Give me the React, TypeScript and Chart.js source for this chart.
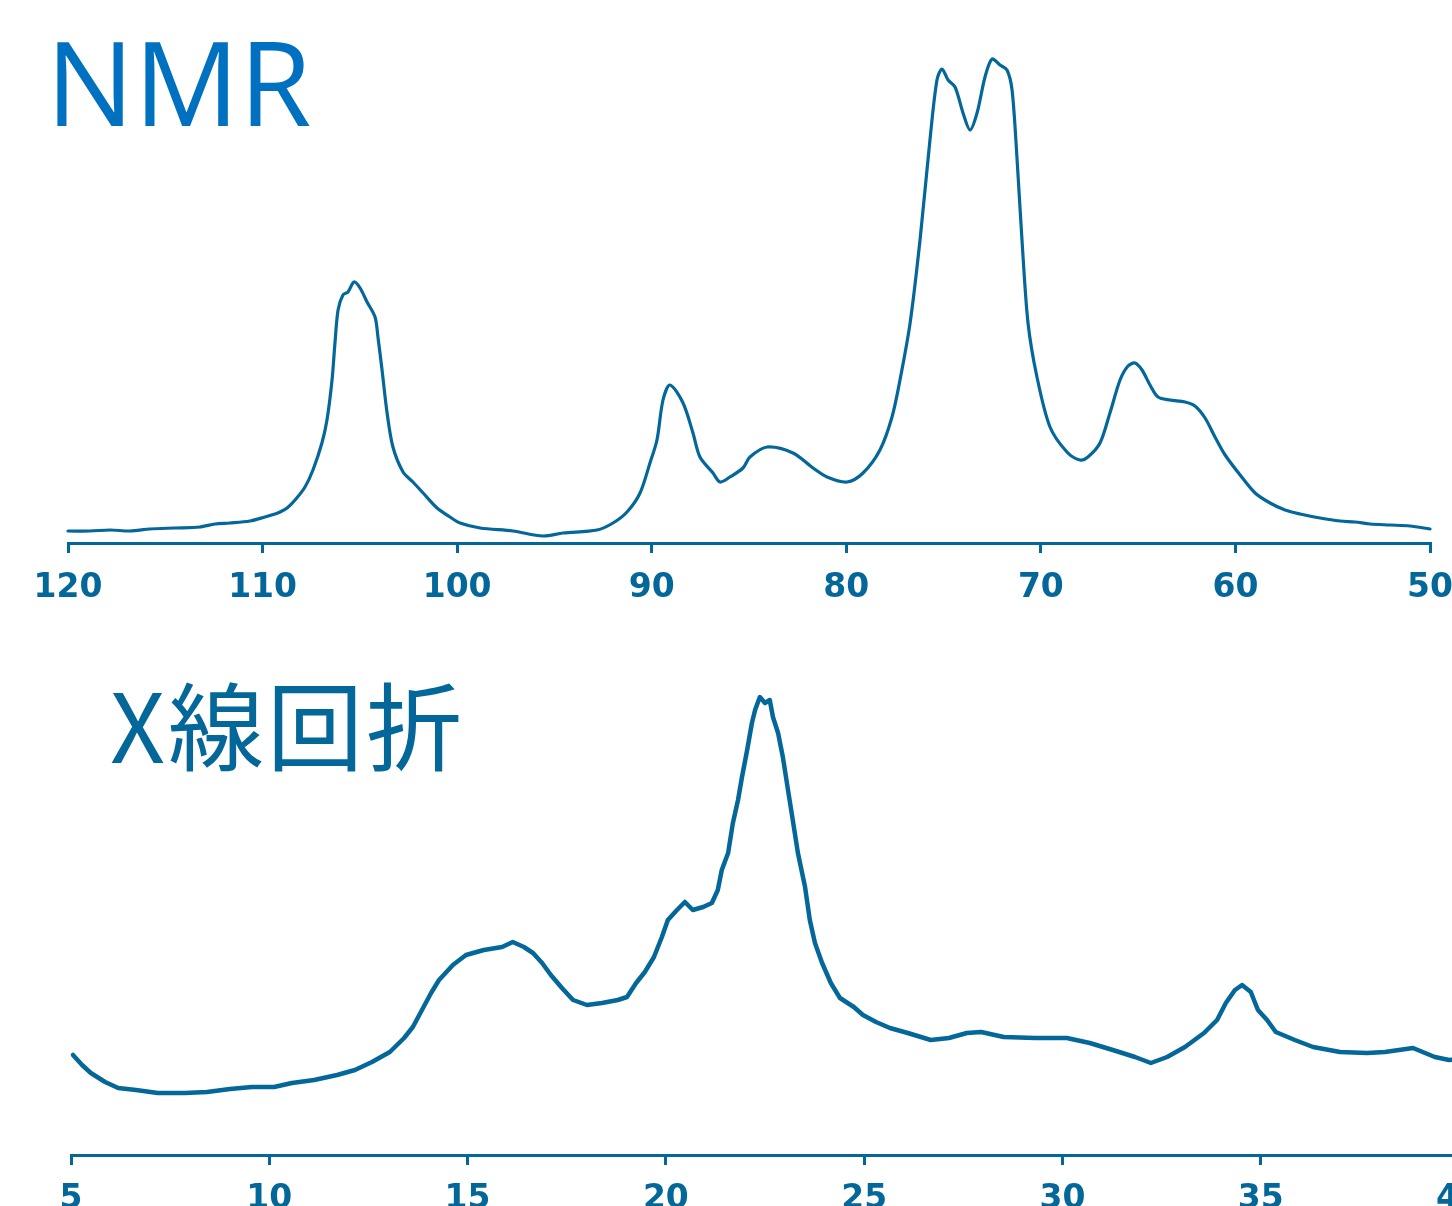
import React, { useEffect, useRef } from "react";
import { Chart, registerables } from "chart.js";

Chart.register(...registerables);

// ---- NMR spectrum (chemical shift, ppm) ----
const nmrShift = [
  120.0, 118.87, 117.84, 116.81, 115.79, 114.5, 113.22, 112.44, 111.67, 110.65,
  109.88, 109.36, 109.1, 108.74, 108.33, 107.82, 107.41, 106.95, 106.69, 106.43,
  106.28, 106.12, 105.87, 105.61, 105.3, 104.99, 104.63, 104.22, 104.07, 103.86,
  103.6, 103.3, 102.78, 102.27, 101.75, 101.03, 100.37, 99.85, 98.82, 97.13,
  95.59, 94.56, 92.81, 91.99, 91.27, 90.6, 90.09, 89.73, 89.42, 89.06,
  88.39, 87.88, 87.52, 86.85, 86.49, 85.98, 85.31, 84.95, 84.07, 82.74,
  81.71, 80.99, 79.96, 79.14, 78.27, 77.65, 77.24, 76.72, 76.21, 75.7,
  75.34, 75.08, 74.77, 74.41, 74.0, 73.64, 73.28, 72.87, 72.51, 72.1,
  71.74, 71.48, 71.23, 70.97, 70.66, 70.2, 69.53, 68.66, 67.99, 67.58,
  66.96, 66.45, 65.93, 65.52, 65.16, 64.8, 64.39, 63.98, 63.36, 62.59,
  62.08, 61.56, 61.05, 60.53, 59.76, 58.99, 58.22, 57.45, 56.68, 55.65,
  54.62, 53.85, 53.08, 52.06, 51.03, 50.0,
];
const nmrIntensity = [
  12, 12, 13, 12, 14, 15, 16, 19, 20, 22,
  26, 29, 31, 35, 43, 56, 73, 100, 123, 163,
  200, 233, 248, 251, 261, 255, 241, 226, 206, 173,
  130, 96, 71, 61, 50, 35, 26, 20, 15, 12,
  7, 10, 13, 20, 31, 50, 80, 103, 143, 158,
  140, 110, 86, 70, 61, 66, 75, 86, 96, 90,
  75, 66, 61, 70, 93, 126, 163, 220, 303, 403,
  463, 474, 463, 456, 430, 413, 430, 466, 484, 478,
  473, 453, 386, 303, 220, 166, 116, 91, 83, 86,
  100, 130, 163, 177, 180, 173, 158, 146, 143, 141,
  137, 125, 106, 88, 68, 50, 40, 33, 29, 25,
  22, 21, 19, 18, 17, 14,
];
const nmrTicks = { min: 50, max: 120, step: 10 };

// ---- X-ray diffraction (2θ, degrees) ----
const xrdAngle = [
  5.05, 5.28, 5.5, 5.86, 6.19, 6.64, 7.19, 7.87, 8.43, 9.01,
  9.56, 10.12, 10.57, 11.13, 11.71, 12.16, 12.59, 13.04, 13.4, 13.62,
  13.85, 14.08, 14.28, 14.63, 14.96, 15.41, 15.87, 16.14, 16.42, 16.65,
  16.88, 17.1, 17.38, 17.66, 18.01, 18.39, 18.79, 19.02, 19.25, 19.47,
  19.7, 19.9, 20.05, 20.28, 20.48, 20.68, 20.94, 21.16, 21.31, 21.41,
  21.57, 21.69, 21.82, 21.92, 22.05, 22.17, 22.25, 22.37, 22.5, 22.62,
  22.7, 22.83, 22.95, 23.08, 23.2, 23.33, 23.51, 23.63, 23.76, 23.94,
  24.16, 24.39, 24.74, 24.97, 25.3, 25.65, 26.1, 26.68, 27.14, 27.59,
  27.95, 28.52, 29.31, 30.11, 30.69, 31.27, 31.83, 32.23, 32.64, 33.09,
  33.57, 33.9, 34.12, 34.35, 34.53, 34.75, 34.93, 35.16, 35.38, 35.86,
  36.32, 37.0, 37.68, 38.13, 38.84, 39.39, 39.75, 40.0,
];
const xrdIntensity = [
  100, 90, 82, 73, 67, 65, 62, 62, 63, 66,
  68, 68, 72, 75, 80, 85, 93, 103, 117, 128,
  145, 162, 175, 190, 200, 205, 208, 213, 208, 202,
  192, 180, 167, 155, 150, 152, 155, 158, 172, 183,
  198, 218, 235, 245, 253, 245, 248, 252, 265, 285,
  302, 332, 355, 378, 405, 432, 445, 458, 452, 455,
  438, 422, 398, 365, 335, 302, 268, 235, 212, 192,
  172, 157, 148, 140, 133, 127, 122, 115, 117, 122,
  123, 118, 117, 117, 112, 105, 98, 92, 98, 108,
  122, 135, 152, 165, 170, 163, 145, 135, 123, 115,
  108, 103, 102, 103, 107, 98, 95, 96,
];
const xrdTicks = { min: 5, max: 40, step: 5 };

const COLOR = "#04679a";
const TITLE_BLUE = "#0070c0";

function buildConfig(
  xs: number[],
  ys: number[],
  ticks: { min: number; max: number; step: number },
  reverse: boolean,
  yMax: number,
  padding: { left: number; right: number; top: number; bottom: number },
  tension: number,
  lineWidth: number,
  labelPad: number
): any {
  return {
    type: "line",
    data: {
      datasets: [
        {
          data: xs.map((x, i) => ({ x, y: ys[i] })),
          borderColor: COLOR,
          borderWidth: lineWidth,
          borderJoinStyle: "round",
          borderCapStyle: "round",
          pointRadius: 0,
          fill: false,
          tension,
          clip: false,
        },
      ],
    },
    options: {
      responsive: false,
      animation: false,
      devicePixelRatio: 1,
      layout: { padding },
      plugins: { legend: { display: false }, tooltip: { enabled: false }, title: { display: false } },
      scales: {
        x: {
          type: "linear",
          min: ticks.min,
          max: ticks.max,
          reverse,
          afterFit: (scale: any) => {
            scale.height = 60;
          },
          border: { display: true, color: COLOR, width: 3 },
          grid: {
            display: true,
            drawOnChartArea: false,
            drawTicks: true,
            tickLength: 10,
            tickWidth: 3,
            tickColor: COLOR,
            color: COLOR,
            lineWidth: 3,
          },
          ticks: {
            stepSize: ticks.step,
            autoSkip: false,
            maxRotation: 0,
            padding: labelPad,
            color: COLOR,
            font: { family: "'DejaVu Sans', Verdana, sans-serif", weight: "bold", size: 33 },
          },
        },
        y: { display: false, min: 0, max: yMax },
      },
    },
  };
}

function ChartCanvas(props: { config: any; width: number; height: number; top: number }) {
  const ref = useRef<HTMLCanvasElement | null>(null);
  useEffect(() => {
    if (!ref.current) return;
    const chart = new Chart(ref.current, props.config);
    return () => chart.destroy();
  }, []);
  return (
    <canvas
      ref={ref}
      width={props.width}
      height={props.height}
      style={{ position: "absolute", left: 0, top: props.top, width: props.width, height: props.height }}
    />
  );
}

export default function App() {
  const nmrConfig = buildConfig(
    nmrShift,
    nmrIntensity,
    nmrTicks,
    true,
    543,
    { left: 68, right: 90, top: 0, bottom: 17 },
    0.3,
    3.2,
    16
  );
  const xrdConfig = buildConfig(
    xrdAngle,
    xrdIntensity,
    xrdTicks,
    false,
    535,
    { left: 71, right: 61, top: 0, bottom: 25 },
    0,
    4.5,
    15
  );
  return (
    <div
      style={{
        position: "fixed",
        left: 0,
        top: 0,
        width: 1452,
        height: 1206,
        overflow: "hidden",
        background: "#ffffff",
      }}
    >
      <ChartCanvas config={nmrConfig} width={1520} height={620} top={0} />
      <ChartCanvas config={xrdConfig} width={1520} height={620} top={620} />
      <div
        style={{
          position: "absolute",
          left: 46,
          top: 22,
          fontFamily: "'Open Sans', 'Noto Sans', sans-serif",
          fontSize: 117,
          lineHeight: 1,
          color: TITLE_BLUE,
          whiteSpace: "nowrap",
        }}
      >
        NMR
      </div>
      <div
        style={{
          position: "absolute",
          left: 110,
          top: 674,
          fontFamily: "'Noto Sans CJK JP', sans-serif",
          fontSize: 96,
          fontWeight: 400,
          letterSpacing: 3,
          lineHeight: 1,
          color: COLOR,
          whiteSpace: "nowrap",
        }}
      >
        X線回折
      </div>
    </div>
  );
}
